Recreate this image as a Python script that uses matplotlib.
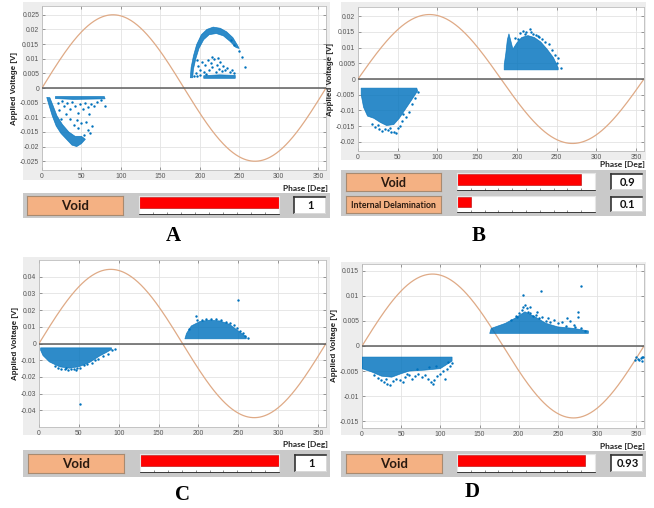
import numpy as np
import matplotlib
matplotlib.use("Agg")
import matplotlib.pyplot as plt
from matplotlib.patches import Rectangle

#   DATA
panel_names = ["A", "B", "C", "D"]
sine_amplitude = [0.025, 0.0205, 0.0444, 0.0143]
y_limits = [0.028, 0.0229, 0.05, 0.0163]
y_ticks_a = [-0.025, -0.02, -0.015, -0.01, -0.005, 0, 0.005, 0.01, 0.015, 0.02, 0.025]
y_ticks_b = [-0.02, -0.015, -0.01, -0.005, 0, 0.005, 0.01, 0.015, 0.02]
y_ticks_c = [-0.04, -0.03, -0.02, -0.01, 0, 0.01, 0.02, 0.03, 0.04]
y_ticks_d = [-0.015, -0.01, -0.005, 0, 0.005, 0.01, 0.015]
x_ticks = [0, 50, 100, 150, 200, 250, 300, 350]

classes_a = ["Void"]
scores_a = [1]
classes_b = ["Void", "Internal Delamination"]
scores_b = [0.9, 0.1]
classes_c = ["Void"]
scores_c = [1]
classes_d = ["Void"]
scores_d = [0.93]

#   dense cores of the PD clouds (outline: phase, voltage)
core_a = [
    ([17, 79, 80, 60, 40, 17], [-0.0029, -0.0029, -0.0037, -0.0038, -0.0039, -0.0036]),
    ([6, 9, 13, 18, 24, 31, 38, 44, 50, 55, 50, 42, 34, 26, 19, 14, 10],
     [-0.0032, -0.006, -0.0095, -0.013, -0.0155, -0.0175, -0.0195, -0.020, -0.019, -0.0175,
      -0.0165, -0.0165, -0.015, -0.0125, -0.0095, -0.006, -0.0033]),
    ([188, 189, 192, 196, 202, 209, 217, 226, 234, 242, 248, 250, 246, 238, 230, 221, 212, 205, 199, 195, 192, 191],
     [0.0035, 0.007, 0.011, 0.0148, 0.0182, 0.020, 0.0208, 0.0204, 0.0192, 0.0172, 0.0145, 0.0135,
      0.0138, 0.016, 0.0178, 0.0186, 0.0182, 0.0165, 0.0135, 0.010, 0.0065, 0.0035]),
    ([205, 245, 245, 225, 205], [0.0033, 0.0033, 0.0043, 0.0045, 0.0042]),
]
core_b = [
    ([4, 74, 75, 68, 60, 52, 45, 36, 28, 20, 12, 7, 4],
     [-0.0029, -0.0029, -0.0038, -0.0065, -0.0095, -0.0125, -0.0145, -0.0148, -0.0138, -0.0125, -0.0118, -0.009, -0.005]),
    ([184, 252, 252, 246, 238, 230, 222, 214, 206, 200, 195, 192, 190, 188, 186, 184],
     [0.0029, 0.0029, 0.0036, 0.0068, 0.0095, 0.0118, 0.0132, 0.0138, 0.0132, 0.0115, 0.0095, 0.0125, 0.0144, 0.0125, 0.008, 0.0045]),
]
core_c = [
    ([2, 91, 91, 84, 76, 64, 51, 38.5, 26, 13, 5, 2],
     [-0.0026, -0.0026, -0.0036, -0.0055, -0.0075, -0.0112, -0.0138, -0.0148, -0.014, -0.011, -0.0072, -0.004]),
    ([183, 260, 260, 250, 239, 227, 214, 202, 191, 185],
     [0.0028, 0.0028, 0.004, 0.0075, 0.0115, 0.0135, 0.014, 0.0132, 0.0105, 0.006]),
]
core_d = [
    ([0, 115, 115, 100, 80, 60, 50, 38, 25, 13, 0],
     [-0.0022, -0.0022, -0.003, -0.0045, -0.0048, -0.005, -0.0055, -0.0062, -0.006, -0.0052, -0.0045]),
    ([163, 289, 289, 270, 250, 235, 221, 208, 195, 183, 165],
     [0.0025, 0.0025, 0.003, 0.0035, 0.0038, 0.0045, 0.0058, 0.0068, 0.0055, 0.0045, 0.0035]),
]

#   scattered single discharges (phase, voltage)
phase_a = [20, 25, 28, 32, 35, 38, 42, 45, 48, 52, 55, 58, 62, 66, 70, 30, 36, 44, 50, 56, 58, 61, 63, 46,
           53, 40, 22, 79.4, 75, 60, 24,
           195, 198, 200, 203, 205, 207, 210, 212, 214, 216, 218, 220, 222, 224, 226, 228, 230, 232, 235,
           238, 241, 244, 200, 208, 197, 215, 223, 254, 257.5, 250, 244, 239, 193, 196]
volt_a = [-0.005, -0.0045, -0.006, -0.0052, -0.007, -0.0048, -0.006, -0.0085, -0.0055, -0.007, -0.005,
          -0.0065, -0.0055, -0.006, -0.0048, -0.009, -0.0105, -0.011, -0.012, -0.0115, -0.0145, -0.0155,
          -0.013, -0.0135, -0.016, -0.0125, -0.0075, -0.0061, -0.0042, -0.009, -0.0105,
          0.005, 0.0075, 0.006, 0.009, 0.0055, 0.0078, 0.0095, 0.006, 0.0085, 0.0072, 0.0098, 0.0055, 0.008,
          0.0065, 0.009, 0.0058, 0.0075, 0.0062, 0.0068, 0.0055, 0.006, 0.005, 0.0045, 0.0048, 0.0095,
          0.0105, 0.0102, 0.0106, 0.0071, 0.0128, 0.0148, 0.0165, 0.004, 0.0042]
phase_b = [22, 26, 30, 34, 38, 42, 45, 48, 50, 55, 60, 64, 68, 72, 76, 18, 40, 53, 25, 57,
           204, 208, 212, 216, 220, 224, 228, 232, 236, 240, 244, 248, 252, 202, 210, 226, 218, 250, 255, 198]
volt_b = [-0.0152, -0.0158, -0.0165, -0.016, -0.0162, -0.0168, -0.017, -0.0172, -0.0155, -0.0135, -0.012,
          -0.0105, -0.008, -0.006, -0.0042, -0.0142, -0.0155, -0.0148, -0.0145, -0.011,
          0.0145, 0.0152, 0.0148, 0.0158, 0.0142, 0.014, 0.0132, 0.0128, 0.0118, 0.011, 0.0092, 0.0075,
          0.0068, 0.0128, 0.0142, 0.0138, 0.0148, 0.005, 0.0035, 0.013]
phase_c = [20, 24, 28, 32, 36, 40, 44, 48, 52, 56, 60, 66, 70, 74, 80, 86, 92, 95, 34, 46, 51,
           198, 204, 210, 216, 222, 228, 234, 240, 244, 248, 252, 256, 258, 197, 249, 188, 262]
volt_c = [-0.0135, -0.0145, -0.015, -0.0155, -0.0158, -0.0155, -0.0152, -0.0148, -0.0145, -0.013, -0.0125,
          -0.0115, -0.01, -0.009, -0.0075, -0.006, -0.004, -0.0035, -0.0148, -0.0158, -0.0362,
          0.0138, 0.0142, 0.0148, 0.0146, 0.0145, 0.0142, 0.013, 0.012, 0.011, 0.009, 0.0075, 0.006, 0.0045,
          0.0162, 0.0261, 0.0085, 0.0035]
phase_d = [15, 20, 24, 28, 32, 36, 40, 44, 48, 55, 60, 64, 68, 72, 76, 80, 84, 88, 92, 96, 100, 104, 108,
           112, 115, 106, 90, 58, 70, 85, 95, 110, 30, 52,
           350, 352, 354, 356, 358, 359, 349, 357,
           190, 196, 200, 204, 206, 208, 210, 212, 215, 218, 222, 226, 230, 235, 240, 245, 250, 255, 260,
           265, 270, 276, 276, 280, 285, 206, 229, 280, 198, 214, 224, 238, 262, 272]
volt_d = [-0.0058, -0.0063, -0.0068, -0.0072, -0.0075, -0.0078, -0.007, -0.0065, -0.0068, -0.0062, -0.0058,
          -0.0065, -0.006, -0.0055, -0.0062, -0.0058, -0.0065, -0.0072, -0.0068, -0.006, -0.0055, -0.005,
          -0.0045, -0.004, -0.0034, -0.0066, -0.0076, -0.0055, -0.0045, -0.0042, -0.004, -0.0032, -0.0066,
          -0.0072,
          -0.0022, -0.0026, -0.0028, -0.0024, -0.003, -0.0022, -0.0028, -0.0021,
          0.0052, 0.006, 0.0065, 0.0072, 0.0078, 0.0082, 0.0075, 0.0068, 0.0065, 0.006, 0.0062, 0.0055,
          0.0058, 0.005, 0.0048, 0.0052, 0.0045, 0.0048, 0.004, 0.005, 0.0042, 0.0058, 0.0068, 0.0035,
          0.003, 0.0101, 0.011, 0.012, 0.0058, 0.0078, 0.0068, 0.0055, 0.0055, 0.0038]

#   LAYOUT (pixels in the 654x508 picture)
W, H = 654, 508
layout = {
    "A": dict(bg=(23, 2, 330, 180), plot=(42, 6, 326, 170), phase=(328, 188), strip=(23, 193, 330, 218),
              rows=[(196, 215)], lx=(27, 123), gx=(139, 279), vx=(294, 325), letter=(173, 236)),
    "B": dict(bg=(341, 2, 646, 160), plot=(358, 7, 644, 151), phase=(645, 165), strip=(341, 170, 646, 216),
              rows=[(173, 191), (196, 213)], lx=(346, 441), gx=(457, 595), vx=(611, 642), letter=(479, 236)),
    "C": dict(bg=(23, 257, 330, 435), plot=(39, 260, 326, 427), phase=(328, 444), strip=(23, 450, 330, 477),
              rows=[(454, 473)], lx=(28, 124), gx=(140, 279), vx=(295, 326), letter=(182, 495)),
    "D": dict(bg=(341, 262, 646, 435), plot=(362, 264, 644, 428), phase=(645, 446), strip=(341, 451, 646, 477),
              rows=[(454, 473)], lx=(346, 442), gx=(457, 595), vx=(611, 642), letter=(472, 492)),
}

BLUE = "#0072BD"
SINE = "#DFAA86"
WIDGET_FONT = ["Lato", "DejaVu Sans"]
TICK_FONT = ["Liberation Sans", "DejaVu Sans"]

fig = plt.figure(figsize=(W / 100, H / 100), dpi=100)
fig.patch.set_facecolor("white")


def px_axes(x0, y0, x1, y1, **kw):
    return fig.add_axes([x0 / W, 1 - y1 / H, (x1 - x0) / W, (y1 - y0) / H], **kw)


def px_rect(x0, y0, x1, y1, color):
    #   background blocks sit behind every axes
    fig.patches.append(Rectangle((x0 / W, 1 - y1 / H), (x1 - x0) / W, (y1 - y0) / H,
                                 transform=fig.transFigure, facecolor=color, edgecolor="none", zorder=-10))


#   PRPD PLOT
def draw_prpd(box, amp, ylim, yticks, cores, phase, volt):
    px_rect(*box["bg"], "#EDEDED")
    ax = px_axes(*box["plot"])
    ax.set_facecolor("white")
    ax.set_xlim(0, 360)
    ax.set_ylim(-ylim, ylim)
    ax.set_xticks(x_ticks)
    ax.set_yticks(yticks)
    ax.set_yticklabels(["%g" % t for t in yticks])
    ax.grid(True, color="#E3E3E3", lw=0.6)
    ax.set_axisbelow(True)
    ax.tick_params(labelsize=4.9, length=2, width=0.4, direction="in", colors="#555555",
                   top=True, right=True, pad=2)
    for lab in ax.get_xticklabels() + ax.get_yticklabels():
        lab.set_family(TICK_FONT)
    for s in ax.spines.values():
        s.set_color("#BDBDBD")
        s.set_linewidth(0.6)

    ph = np.linspace(0, 360, 361)
    ax.plot(ph, amp * np.sin(np.radians(ph)), color=SINE, lw=0.9, zorder=3)
    ax.axhline(0, color="#5E5E5E", lw=1.1, zorder=3)

    for xs, ys in cores:
        ax.fill(xs, ys, color=BLUE, alpha=0.82, lw=0.5, zorder=4)
    ax.scatter(phase, volt, s=3, color=BLUE, lw=0, zorder=5)

    ax.set_ylabel("Applied Voltage [V]", fontsize=5.8, fontweight="bold", family=TICK_FONT, labelpad=1.5)
    ax.yaxis.label.set_color("#222222")
    fig.text(box["phase"][0] / W, 1 - box["phase"][1] / H, "Phase [Deg]", ha="right", va="center",
             fontsize=6, fontweight="bold", family=WIDGET_FONT, color="#222222")


#   CLASSIFIER RESULT WIDGET
def draw_widget(box, classes, scores):
    px_rect(*box["strip"], "#C9C9C9")
    for (y0, y1), name, score in zip(box["rows"], classes, scores):
        lab = px_axes(box["lx"][0], y0, box["lx"][1], y1)
        lab.set_facecolor("#F4B183")
        lab.set_xticks([])
        lab.set_yticks([])
        for s in lab.spines.values():
            s.set_color("#A88A70")
            s.set_linewidth(0.8)
        size = 9.5 if len(box["rows"]) == 1 else (9 if len(name) < 10 else 6.3)
        lab.text(0.5, 0.45, name, ha="center", va="center", fontsize=size, fontweight="bold",
                 family=WIDGET_FONT, color="#2A1A10", transform=lab.transAxes)

        gauge = px_axes(box["gx"][0], y0, box["gx"][1], y1 - 1)
        gauge.set_facecolor("white")
        gauge.set_xlim(0, 1)
        gauge.set_ylim(-0.55, 1.2)
        gauge.barh([0.55], [score], height=1.1, color="#FF0000", edgecolor="#B00000", lw=0.4)
        gauge.set_xticks(np.arange(0, 1.01, 0.1))
        gauge.set_xticklabels([])
        gauge.set_yticks([])
        gauge.tick_params(axis="x", length=1.5, width=0.4, direction="in", colors="#333333")
        gauge.spines["bottom"].set_color("#222222")
        gauge.spines["bottom"].set_linewidth(0.6)
        for side in ("left", "top", "right"):
            gauge.spines[side].set_color("#E6E6E6")

        val = px_axes(box["vx"][0], y0 + 1, box["vx"][1], y1 - 2)
        val.set_facecolor("white")
        val.set_xticks([])
        val.set_yticks([])
        for side, col, lw in (("left", "#333333", 1.2), ("top", "#333333", 1.2),
                              ("right", "#DDDDDD", 0.6), ("bottom", "#DDDDDD", 0.6)):
            val.spines[side].set_color(col)
            val.spines[side].set_linewidth(lw)
        val.text(0.55, 0.45, "%g" % score, ha="center", va="center", fontsize=8, fontweight="bold",
                 family=WIDGET_FONT, color="#111111", transform=val.transAxes)


all_ticks = [y_ticks_a, y_ticks_b, y_ticks_c, y_ticks_d]
all_cores = [core_a, core_b, core_c, core_d]
all_phase = [phase_a, phase_b, phase_c, phase_d]
all_volt = [volt_a, volt_b, volt_c, volt_d]
all_classes = [classes_a, classes_b, classes_c, classes_d]
all_scores = [scores_a, scores_b, scores_c, scores_d]

for i, name in enumerate(panel_names):
    box = layout[name]
    draw_prpd(box, sine_amplitude[i], y_limits[i], all_ticks[i], all_cores[i], all_phase[i], all_volt[i])
    draw_widget(box, all_classes[i], all_scores[i])
    fig.text(box["letter"][0] / W, 1 - box["letter"][1] / H, name, ha="center", va="center",
             fontsize=15, fontweight="bold", family=["Liberation Serif", "DejaVu Serif"])

fig.savefig("out.png", dpi=100)
